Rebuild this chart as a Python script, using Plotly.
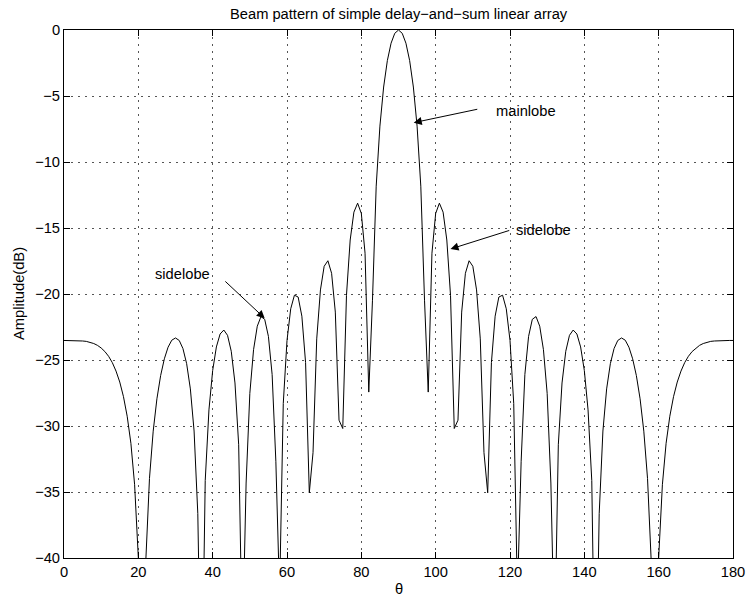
import plotly.graph_objects as go

# ---------------- data ----------------
theta_deg = list(range(0, 181))

amplitude_db = [
    -23.52, -23.52, -23.52, -23.53, -23.54, -23.56, -23.59, -23.65, -23.75, -23.89,
    -24.09, -24.36, -24.72, -25.20, -25.84, -26.67, -27.78, -29.26, -31.31, -34.45,
    -39.99, -68.20, -40.27, -33.97, -30.39, -27.94, -26.18, -24.91, -24.03, -23.50,
    -23.33, -23.52, -24.13, -25.28, -27.19, -30.38, -36.64, -52.97, -34.13, -28.78,
    -25.80, -24.01, -23.03, -22.73, -23.13, -24.34, -26.74, -31.42, -47.02, -34.32,
    -27.53, -24.22, -22.44, -21.71, -21.92, -23.21, -26.10, -32.67, -42.80, -28.29,
    -23.52, -21.12, -20.09, -20.23, -21.68, -25.20, -35.06, -32.02, -23.40, -19.69,
    -17.90, -17.48, -18.43, -21.37, -29.56, -30.19, -20.10, -15.91, -13.80, -13.12,
    -13.90, -16.91, -27.43, -20.47, -11.83, -7.28, -4.32, -2.32, -1.00, -0.25,
    0.00,
    -0.25, -1.00, -2.32, -4.32, -7.28, -11.83, -20.47, -27.43, -16.91, -13.90,
    -13.12, -13.80, -15.91, -20.10, -30.19, -29.56, -21.37, -18.43, -17.48, -17.90,
    -19.69, -23.40, -32.02, -35.06, -25.20, -21.68, -20.23, -20.09, -21.12, -23.52,
    -28.29, -42.80, -32.67, -26.10, -23.21, -21.92, -21.71, -22.44, -24.22, -27.53,
    -34.32, -47.02, -31.42, -26.74, -24.34, -23.13, -22.73, -23.03, -24.01, -25.80,
    -28.78, -34.13, -52.97, -36.64, -30.38, -27.19, -25.28, -24.13, -23.52, -23.33,
    -23.50, -24.03, -24.91, -26.18, -27.94, -30.39, -33.97, -40.27, -68.20, -39.99,
    -34.45, -31.31, -29.26, -27.78, -26.67, -25.84, -25.20, -24.72, -24.36, -24.09,
    -23.89, -23.75, -23.65, -23.59, -23.56, -23.54, -23.53, -23.52, -23.52, -23.52,
]

x_ticks = [0, 20, 40, 60, 80, 100, 120, 140, 160, 180]
x_tick_text = ["0", "20", "40", "60", "80", "100", "120", "140", "160", "180"]
y_ticks = [-40, -35, -30, -25, -20, -15, -10, -5, 0]
y_tick_text = ["\u221240", "\u221235", "\u221230", "\u221225", "\u221220",
               "\u221215", "\u221210", "\u22125", "0"]

title_text = "Beam pattern of simple delay\u2212and\u2212sum linear array"
x_label = "\u03b8"
y_label = "Amplitude(dB)"

# labelled arrows: (label, label_x, label_y, tail_x, tail_y, head_x, head_y)
callouts = [
    ("mainlobe", 124.2, -6.17, 111.6, -5.98, 94.1, -7.02),
    ("sidelobe", 129.1, -15.15, 120.2, -15.15, 104.0, -16.59),
    ("sidelobe", 31.8, -18.48, 43.0, -18.94, 54.0, -21.84),
]

# ---------------- figure ----------------
FONT = "Liberation Sans, Arial, Helvetica, sans-serif"
FS = 14.7

fig = go.Figure()
fig.add_trace(go.Scatter(
    x=theta_deg, y=amplitude_db, mode="lines",
    line=dict(color="black", width=1), hoverinfo="skip", showlegend=False,
))

axis_common = dict(
    showline=True, linecolor="black", linewidth=1, mirror="ticks",
    ticks="inside", ticklen=6, tickcolor="black", tickwidth=1,
    showgrid=True, gridcolor="#555555", gridwidth=1, griddash="1.5px,5.5px",
    zeroline=False, automargin=False,
    tickfont=dict(family=FONT, size=FS, color="black"),
)

fig.update_xaxes(range=[0, 180], tickmode="array", tickvals=x_ticks,
                 ticktext=x_tick_text, **axis_common)
fig.update_yaxes(range=[-40, 0], tickmode="array", tickvals=y_ticks,
                 ticktext=y_tick_text, **axis_common)

annotations = [
    dict(text=title_text, xref="paper", yref="paper", x=0.5, y=1,
         xanchor="center", yanchor="bottom", yshift=6, showarrow=False,
         font=dict(family=FONT, size=FS, color="black")),
    dict(text=x_label, xref="paper", yref="paper", x=0.5, y=0,
         xanchor="center", yanchor="top", yshift=-21, showarrow=False,
         font=dict(family=FONT, size=FS, color="black")),
    dict(text=y_label, xref="paper", yref="paper", x=0, y=0.5,
         xanchor="center", yanchor="middle", xshift=-45, textangle=-90,
         showarrow=False, font=dict(family=FONT, size=FS, color="black")),
]
for label, lx, ly, tx, ty, hx, hy in callouts:
    annotations.append(dict(
        text=label, x=lx, y=ly, xref="x", yref="y", showarrow=False,
        xanchor="center", yanchor="middle",
        font=dict(family=FONT, size=FS, color="black")))
    annotations.append(dict(
        text="", x=hx, y=hy, xref="x", yref="y", ax=tx, ay=ty,
        axref="x", ayref="y", showarrow=True, arrowhead=2, arrowsize=1.6,
        arrowwidth=1, arrowcolor="black", standoff=0, startstandoff=0))

fig.update_layout(
    width=749, height=597,
    margin=dict(l=64, r=16, t=30, b=39, autoexpand=False),
    paper_bgcolor="white", plot_bgcolor="white",
    font=dict(family=FONT, size=FS, color="black"),
    annotations=annotations,
    showlegend=False,
)

fig.write_html("out.html")
